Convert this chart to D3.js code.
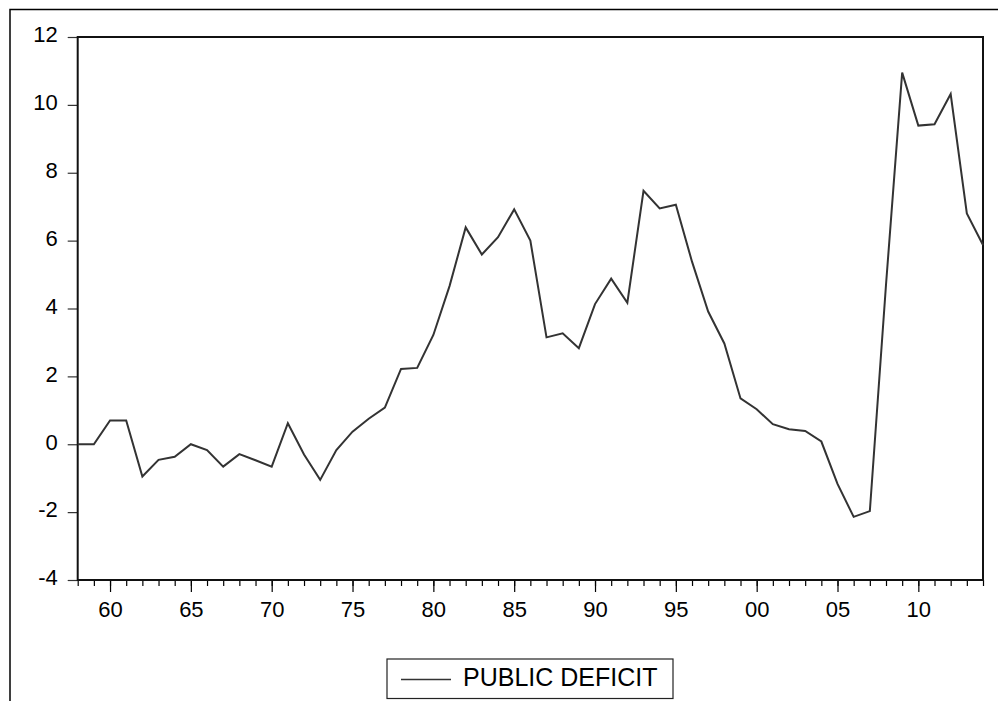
<!DOCTYPE html>
<html>
<head>
<meta charset="utf-8">
<script src="https://cdn.jsdelivr.net/npm/d3@7"></script>
<style>
  body { margin: 0; background: #fff; }
  svg { display: block; }
  svg text { font-family: "Liberation Sans", Arial, sans-serif; }
</style>
</head>
<body>
<div id="chart"></div>
<script>
// public deficit, annual 1958-2014
var years = d3.range(1958, 2015);
var deficit = [
  0.0, 0.0, 0.7, 0.7, -0.95, -0.46, -0.37, 0.0, -0.17, -0.66,
  -0.29, -0.47, -0.66, 0.62, -0.3, -1.05, -0.17, 0.37, 0.75, 1.08,
  2.22, 2.25, 3.22, 4.66, 6.39, 5.59, 6.1, 6.92, 6.0, 3.15,
  3.27, 2.83, 4.13, 4.88, 4.17, 7.47, 6.95, 7.06, 5.38, 3.91,
  2.97, 1.35, 1.03, 0.59, 0.44, 0.39, 0.08, -1.17, -2.14, -1.97,
  4.7, 10.95, 9.39, 9.43, 10.32, 6.8, 5.87
];
var yTicks = [-4, -2, 0, 2, 4, 6, 8, 10, 12];
var majorYears = [1960, 1965, 1970, 1975, 1980, 1985, 1990, 1995, 2000, 2005, 2010];
var seriesName = "PUBLIC DEFICIT";

var width = 998,
    height = 701;
var margin = {left: 77.7, right: 15, top: 37, bottom: 121};
var font = "'Liberation Sans', Arial, sans-serif";

var svg = d3.select("#chart").append("svg")
    .attr("width", width)
    .attr("height", height);

// outer frame (only top and left edges show)
svg.append("path")
    .attr("d", "M10,701V9.5H998")
    .attr("fill", "none")
    .attr("stroke", "#000")
    .attr("stroke-width", 1.5);

var x = d3.scaleLinear()
    .domain([1958, 2014])
    .range([margin.left, width - margin.right]);

var y = d3.scaleLinear()
    .domain([-4, 12])
    .range([height - margin.bottom, margin.top]);

// y axis
var yAxis = svg.append("g")
    .attr("transform", "translate(" + margin.left + ",0)")
    .call(d3.axisLeft(y).tickValues(yTicks).tickSize(10).tickPadding(10)
      .tickFormat(function(d) { return String(d); }));
yAxis.attr("font-family", font).attr("font-size", 22);
yAxis.select(".domain").remove();
yAxis.selectAll("line").attr("stroke", "#333").attr("stroke-width", 1.2);
yAxis.selectAll("text")
    .attr("fill", "#000")
    .attr("dy", "0.22em");

// x axis: minor ticks every year, longer ones every five years
var xMinor = svg.append("g")
    .attr("transform", "translate(0," + y(-4) + ")")
    .call(d3.axisBottom(x).tickValues(years).tickSize(6).tickFormat(""));
xMinor.select(".domain").remove();
xMinor.selectAll("line").attr("stroke", "#000").attr("stroke-width", 1.2);

var xMajor = svg.append("g")
    .attr("transform", "translate(0," + y(-4) + ")")
    .call(d3.axisBottom(x).tickValues(majorYears).tickSize(12).tickPadding(9)
      .tickFormat(function(d) { return d3.format("02d")(d % 100); }));
xMajor.attr("font-family", font).attr("font-size", 22);
xMajor.select(".domain").remove();
xMajor.selectAll("line").attr("stroke", "#000").attr("stroke-width", 1.2);
xMajor.selectAll("text").attr("fill", "#000");

// plot frame
svg.append("rect")
    .attr("x", x(1958))
    .attr("y", y(12))
    .attr("width", x(2014) - x(1958))
    .attr("height", y(-4) - y(12))
    .attr("fill", "none")
    .attr("stroke", "#111")
    .attr("stroke-width", 2);

// the series
var line = d3.line()
    .x(function(d, i) { return x(years[i]); })
    .y(function(d) { return y(d); });

svg.append("path")
    .datum(deficit)
    .attr("d", line)
    .attr("fill", "none")
    .attr("stroke", "#333")
    .attr("stroke-width", 2);

// legend
var legend = svg.append("g").attr("transform", "translate(387,659)");
legend.append("rect")
    .attr("width", 286)
    .attr("height", 39.5)
    .attr("fill", "#fff")
    .attr("stroke", "#222")
    .attr("stroke-width", 1.2);
legend.append("line")
    .attr("x1", 14).attr("x2", 64)
    .attr("y1", 20.5).attr("y2", 20.5)
    .attr("stroke", "#333")
    .attr("stroke-width", 1.5);
legend.append("text")
    .attr("x", 76)
    .attr("y", 27)
    .attr("font-size", 25)
    .attr("fill", "#000")
    .text(seriesName);
</script>
</body>
</html>
